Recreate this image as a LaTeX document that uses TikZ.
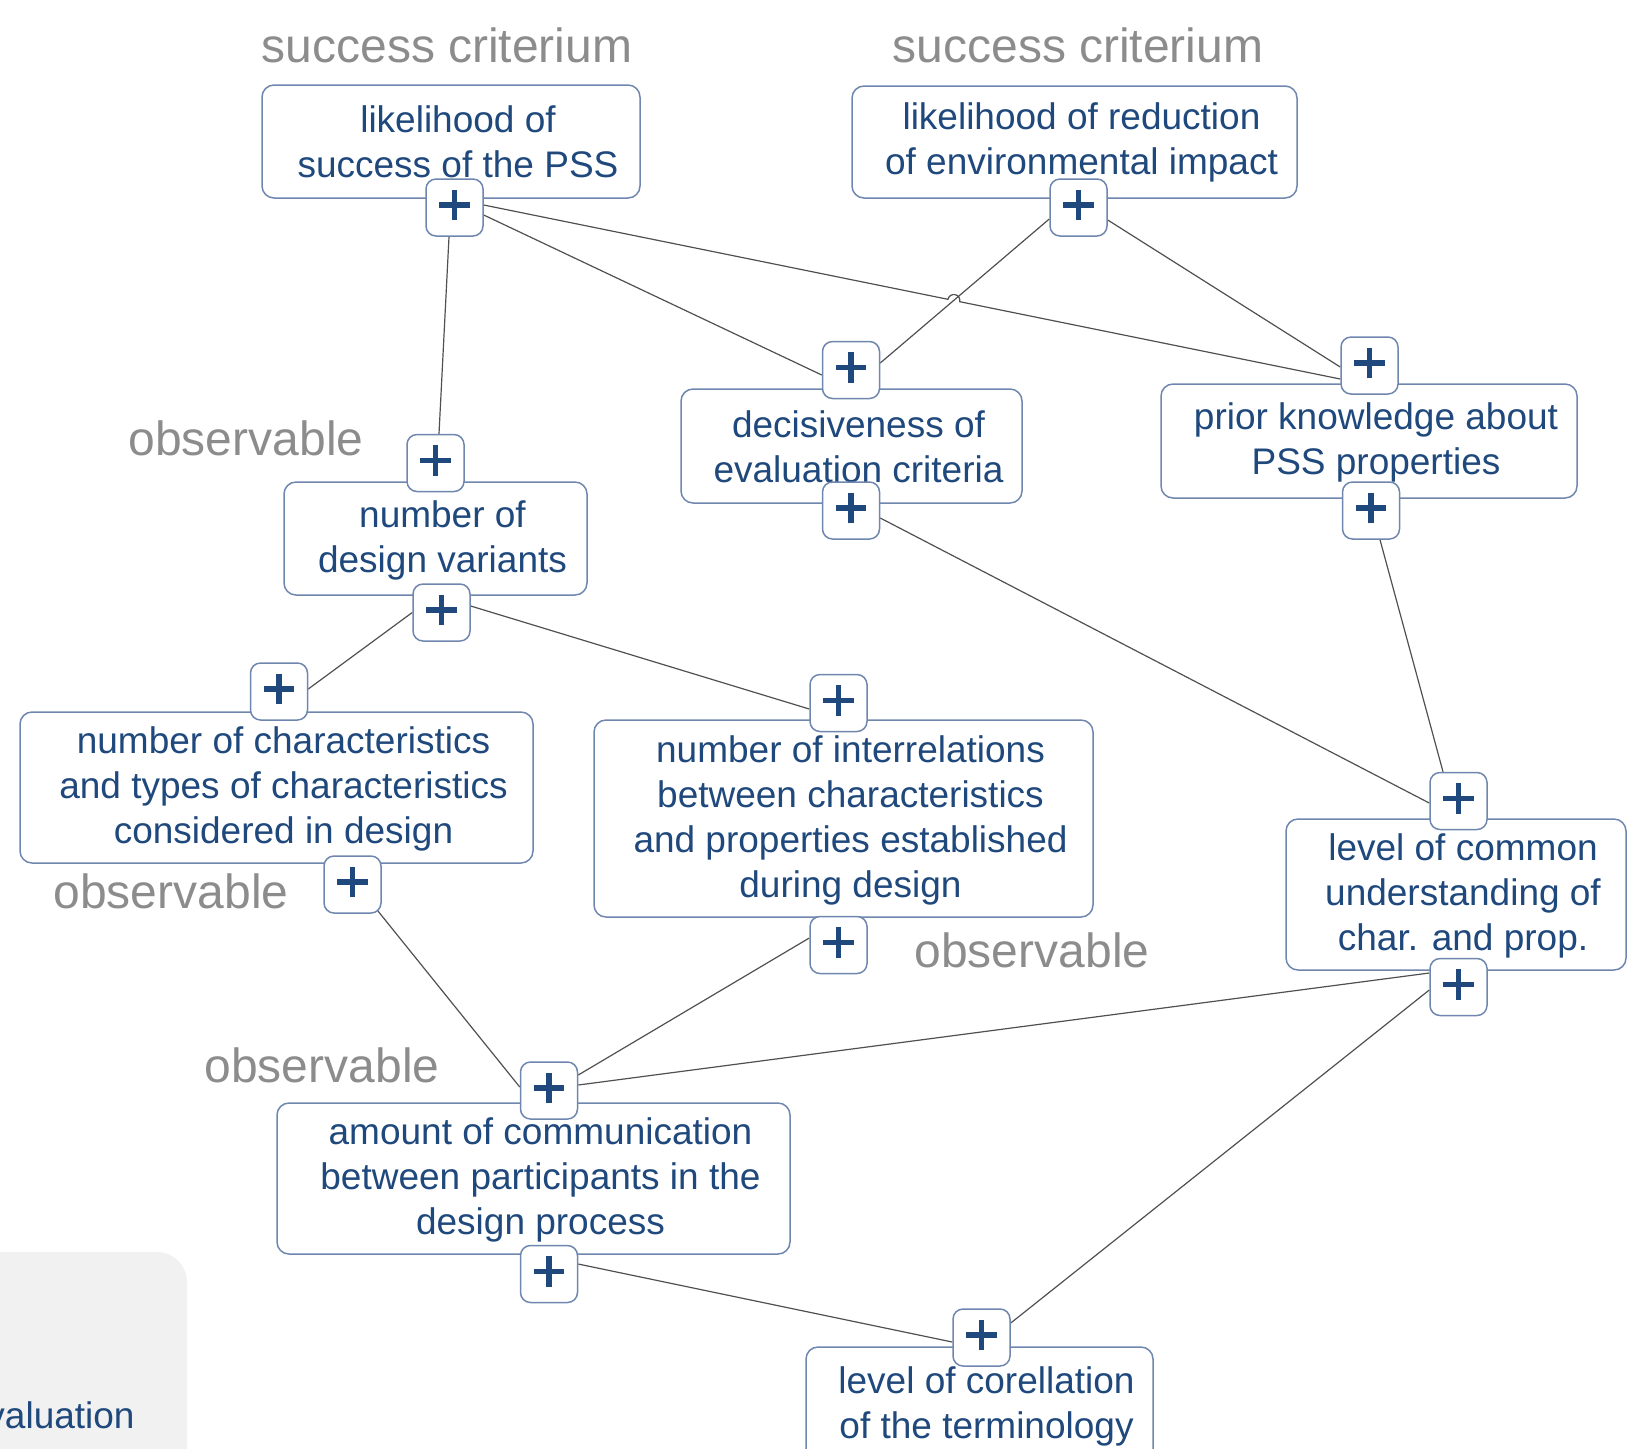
\documentclass[tikz,border=0pt]{standalone}
\usepackage{fontspec}
\setmainfont{Liberation Sans}
\usetikzlibrary{calc}
\definecolor{textblue}{HTML}{1F487C}
\definecolor{bordercol}{HTML}{6F87AF}
\definecolor{labelgray}{HTML}{8C8C8C}
\definecolor{linecol}{HTML}{505050}
\definecolor{graybg}{HTML}{F1F1F1}
\pgfdeclarelayer{bg}
\pgfsetlayers{bg,main}
\begin{document}
\begin{tikzpicture}[x=0.5pt,y=-0.5pt,
  box/.style={draw=bordercol, line width=0.75pt, rounded corners=6pt, fill=white, inner sep=0pt},
  txt/.style={text=textblue, font=\fontsize{18.5pt}{22.5pt}\selectfont, align=center, inner sep=0pt},
  glabel/.style={text=labelgray, font=\fontsize{24pt}{28pt}\selectfont, inner sep=0pt, anchor=base},
  plusbox/.style={draw=bordercol, fill=white, line width=0.75pt, rounded corners=5pt,
    minimum size=28.5pt, inner sep=0pt,
    path picture={\draw[textblue, line width=2.7pt]
      ([xshift=-7.7pt,yshift=1.3pt]path picture bounding box.center) -- ++(15.4pt,0pt)
      ([yshift=-6.4pt]path picture bounding box.center) -- ++(0pt,15.4pt);}},
  conn/.style={draw=linecol, line width=0.6pt}]
\useasboundingbox (0,0) rectangle (1643,1448);
\clip (0,0) rectangle (1643,1448);

% bottom-left grey panel
\fill[graybg, rounded corners=15pt] (-60,1252) rectangle (187,1520);
\node[txt, anchor=base east] (evaltxt) at (135,1428) {evaluation};

% grey labels
\node[glabel] (sc1) at (447,62) {success criterium};
\node[glabel] (sc2) at (1078,62) {success criterium};
\node[glabel] (ob1) at (246,455) {observable};
\node[glabel] (ob2) at (171,908) {observable};
\node[glabel] (ob3) at (1032,967) {observable};
\node[glabel] (ob4) at (322,1082) {observable};

% boxes
\node[box, minimum width=189pt, minimum height=56.5pt] (b1) at (451,141.5) {};
\node[txt] (t1) at (458,142) {likelihood of\\success of the PSS};
\node[box, minimum width=222.5pt, minimum height=56pt] (b2) at (1074.5,142) {};
\node[txt] (t2) at (1081.5,142.5) {likelihood of reduction\\of environmental impact};
\node[box, minimum width=170.5pt, minimum height=57pt] (b3) at (851.5,446) {};
\node[txt] (t3) at (858.5,447) {decisiveness of\\evaluation criteria};
\node[box, minimum width=208pt, minimum height=57pt] (b4) at (1369,441) {};
\node[txt] (t4) at (1376,442) {prior knowledge about\\PSS properties};
\node[box, minimum width=151.5pt, minimum height=56.5pt] (b5) at (435.5,538.5) {};
\node[txt] (t5) at (442.5,540) {number of\\design variants};
\node[box, minimum width=256.5pt, minimum height=75.5pt] (b6) at (276.5,787.5) {};
\node[txt] (t6) at (283.5,789) {number of characteristics\\and types of characteristics\\considered in design};
\node[box, minimum width=249.5pt, minimum height=98.5pt] (b7) at (843.5,818.5) {};
\node[txt] (t7) at (850.5,820) {number of interrelations\\between characteristics\\and properties established\\during design};
\node[box, minimum width=170pt, minimum height=75.5pt] (b8) at (1456,894.5) {};
\node[txt] (t8) at (1463,896) {level of common\\understanding of\\char. and prop.};
\node[box, minimum width=256.5pt, minimum height=75.5pt] (b9) at (533.5,1178.5) {};
\node[txt] (t9) at (540.5,1180) {amount of communication\\between participants in the\\design process};
\node[box, minimum width=173.5pt, minimum height=58pt] (b10) at (979.5,1405) {};
\node[txt] (t10) at (986.5,1406) {level of corellation\\of the terminology};

% plus nodes
\node[plusbox] (p1) at (454.5,207.5) {};
\node[plusbox] (p2) at (1078.5,207.5) {};
\node[plusbox] (p3t) at (851,370) {};
\node[plusbox] (p3b) at (851,510.5) {};
\node[plusbox] (p4t) at (1369.5,365.5) {};
\node[plusbox] (p4b) at (1371,510.5) {};
\node[plusbox] (p5t) at (435.5,463) {};
\node[plusbox] (p5b) at (441.5,612.5) {};
\node[plusbox] (p6t) at (279,691.5) {};
\node[plusbox] (p6b) at (352.5,884.5) {};
\node[plusbox] (p7t) at (838.5,703) {};
\node[plusbox] (p7b) at (838.5,945) {};
\node[plusbox] (p8t) at (1458.5,801) {};
\node[plusbox] (p8b) at (1458.5,987) {};
\node[plusbox] (p9t) at (549,1090.5) {};
\node[plusbox] (p9b) at (549,1274) {};
\node[plusbox] (p10) at (981.5,1337.5) {};

\coordinate (hopA) at (948.0,299.3);

% connectors
\begin{pgfonlayer}{bg}
\draw[conn] ($(p1.south)+(-5.5,0)$) -- ($(p5t.north)+(3.5,0)$);
\draw[conn] ($(p1.east)+(0,7.5)$) -- ($(p3t.west)+(0,5)$);
\draw[conn] ($(p1.east)+(0,-2.5)$) -- (hopA)
  arc[start angle=168.54, end angle=-11.46, radius=3pt] -- ($(p4t.west)+(0,13.5)$);
\draw[conn] ($(p2.west)+(0,11.5)$) -- ($(p3t.east)+(0,-7)$);
\draw[conn] ($(p2.east)+(0,12.5)$) -- ($(p4t.west)+(0,1.5)$);
\draw[conn] ($(p3b.east)+(0,7.5)$) -- ($(p8t.west)+(0,2)$);
\draw[conn] ($(p4b.south)+(9,0)$) -- ($(p8t.north)+(-15.5,0)$);
\draw[conn] (p5b.west) -- ($(p6t.east)+(0,-2.5)$);
\draw[conn] ($(p5b.east)+(0,-6.5)$) -- ($(p7t.west)+(0,6)$);
\draw[conn] ($(p6b.south east)+(-4,-3)$) -- ($(p9t.west)+(0,-3.5)$);
\draw[conn] ($(p7b.west)+(0,-7)$) -- ($(p9t.east)+(0,-15.5)$);
\draw[conn] ($(p8b.west)+(0,-14)$) -- ($(p9t.east)+(0,-5.5)$);
\draw[conn] ($(p8b.west)+(0,3)$) -- ($(p10.east)+(0,-14.5)$);
\draw[conn] ($(p9b.east)+(0,-10)$) -- ($(p10.west)+(0,4.5)$);
\end{pgfonlayer}
\end{tikzpicture}
\end{document}
